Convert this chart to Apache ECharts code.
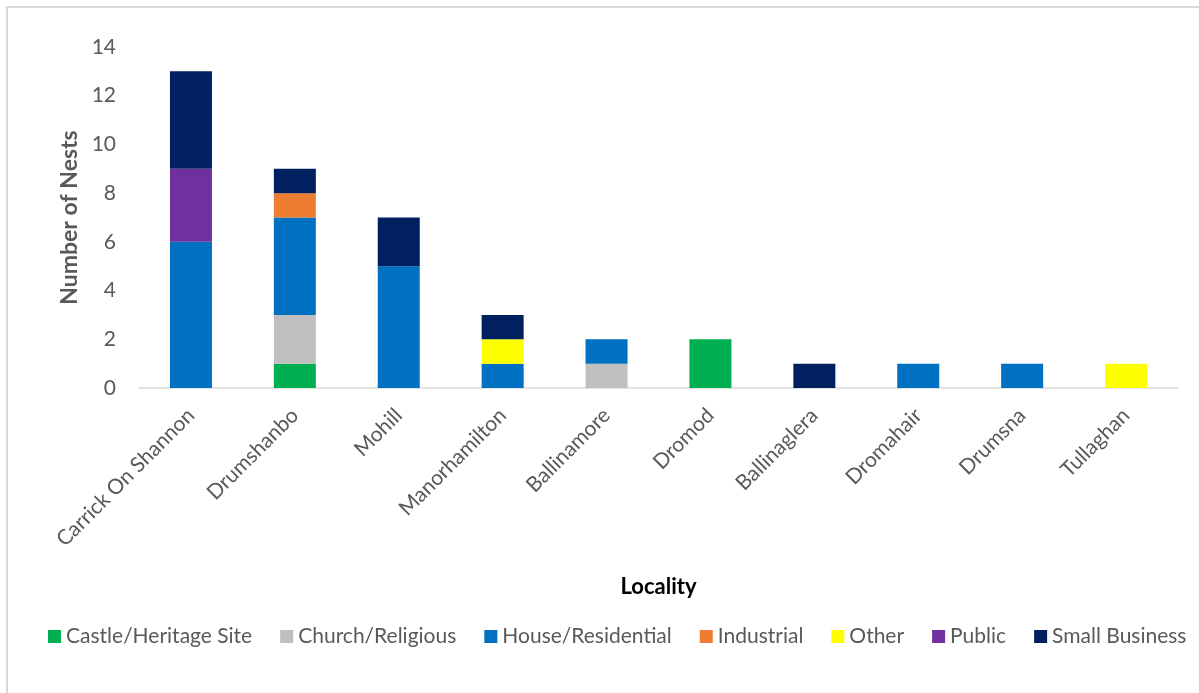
<!DOCTYPE html>
<html>
<head>
<meta charset="utf-8">
<script src="https://cdn.jsdelivr.net/npm/echarts@6/dist/echarts.min.js"></script>
<style>
html,body{margin:0;padding:0;background:#fff;}
#chart{width:1199px;height:693px;}
</style>
</head>
<body>
<div id="chart"></div>
<script>
const categories = ['Carrick On Shannon','Drumshanbo','Mohill','Manorhamilton','Ballinamore','Dromod','Ballinaglera','Dromahair','Drumsna','Tullaghan'];
const castleHeritage = [0,1,0,0,0,2,0,0,0,0];
const churchReligious = [0,2,0,0,1,0,0,0,0,0];
const houseResidential = [6,4,5,1,1,0,0,1,1,0];
const industrial = [0,1,0,0,0,0,0,0,0,0];
const other = [0,0,0,1,0,0,0,0,0,1];
const publicSite = [3,0,0,0,0,0,0,0,0,0];
const smallBusiness = [4,1,2,1,0,0,1,0,0,0];
const yTicks = [0,2,4,6,8,10,12,14];

const seriesDefs = [
  ['Castle/Heritage Site', castleHeritage, '#00B050'],
  ['Church/Religious', churchReligious, '#BFBFBF'],
  ['House/Residential', houseResidential, '#0070C0'],
  ['Industrial', industrial, '#ED7D31'],
  ['Other', other, '#FFFF00'],
  ['Public', publicSite, '#7030A0'],
  ['Small Business', smallBusiness, '#002060']
];

const font = 'Lato, "Open Sans", sans-serif';
const chart = echarts.init(document.getElementById('chart'));
chart.setOption({
  animation: false,
  textStyle: {fontFamily: font},
  graphic: [{
    type: 'rect',
    shape: {x: 7, y: 7, width: 1400, height: 1000},
    style: {fill: 'none', stroke: '#d9d9d9', lineWidth: 2},
    silent: true, z: -10
  }],
  grid: {left: 139, right: 21, top: 47, bottom: 305},
  legend: {
    left: 43, top: 621,
    itemWidth: 13, itemHeight: 13, itemGap: 28,
    icon: 'rect',
    textStyle: {fontSize: 21, color: '#595959', fontFamily: font},
    data: seriesDefs.map(s => s[0])
  },
  xAxis: {
    type: 'category',
    data: categories,
    name: 'Locality',
    nameLocation: 'middle',
    nameGap: 188,
    nameTextStyle: {fontSize: 22, fontWeight: 'bold', color: '#000', fontFamily: font},
    axisLine: {lineStyle: {color: '#d9d9d9', width: 1.5}},
    axisTick: {show: false},
    axisLabel: {rotate: 45, fontSize: 21, color: '#595959', margin: 24, interval: 0, fontFamily: font}
  },
  yAxis: {
    type: 'value',
    min: yTicks[0], max: yTicks[yTicks.length-1], interval: 2,
    name: 'Number of Nests',
    nameLocation: 'middle',
    nameGap: 57,
    nameTextStyle: {fontSize: 23, fontWeight: 'bold', color: '#595959', fontFamily: font},
    axisLine: {show: false},
    axisTick: {show: false},
    splitLine: {show: false},
    axisLabel: {fontSize: 21, color: '#595959', margin: 23, fontFamily: font}
  },
  series: seriesDefs.map(s => ({
    name: s[0],
    type: 'bar',
    stack: 'total',
    barWidth: 42,
    data: s[1],
    itemStyle: {color: s[2]}
  }))
});
</script>
</body>
</html>
